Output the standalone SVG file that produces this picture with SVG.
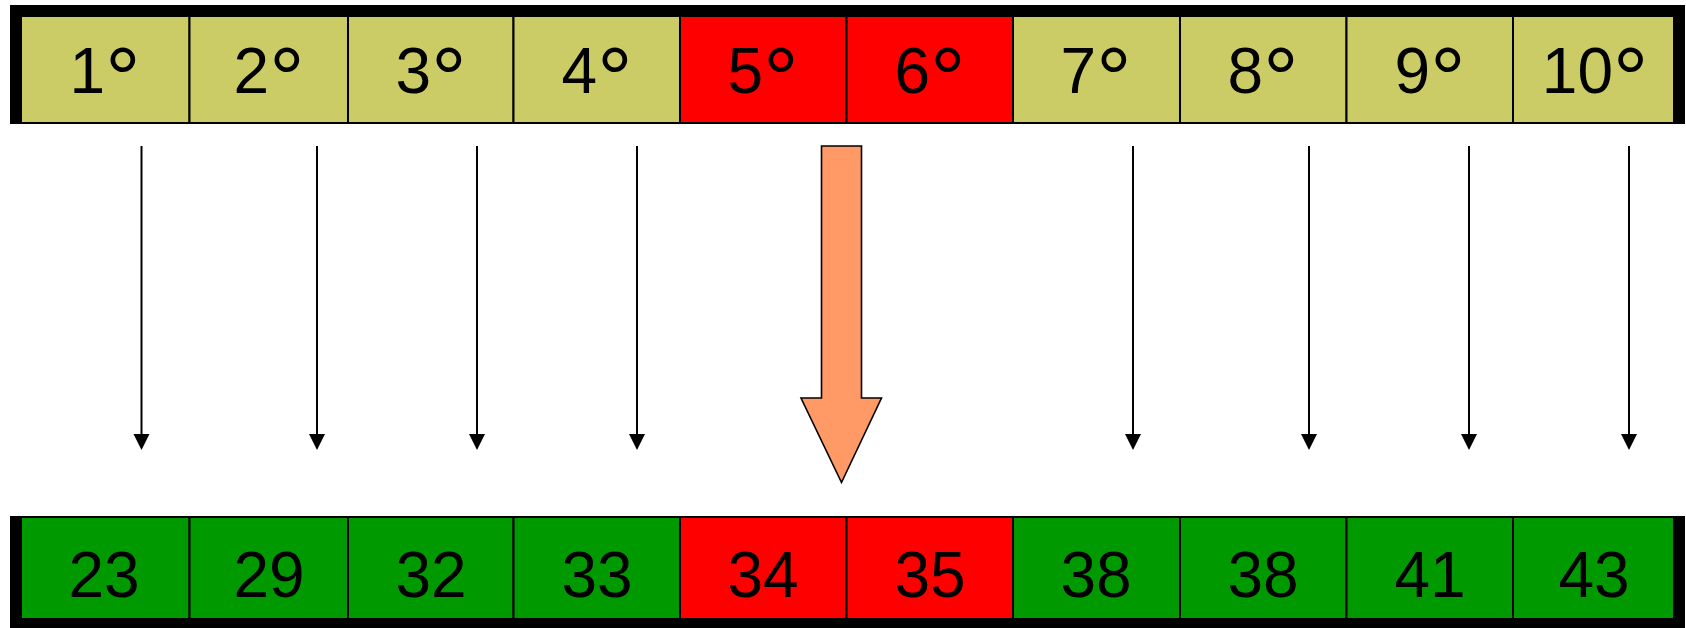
<svg xmlns="http://www.w3.org/2000/svg" width="1686" height="628" viewBox="0 0 1686 628">
<defs>
<style>
.y{fill:#CCCC66;stroke:#000;stroke-width:2}
.r{fill:#FF0000;stroke:#000;stroke-width:2}
.g{fill:#009900;stroke:#000;stroke-width:2}
.bar{fill:#000}
.t{font-family:"Liberation Sans",Arial,sans-serif;font-size:64px;fill:#000;text-anchor:middle}
.d{font-size:88px}
.ln{stroke:#000;stroke-width:2;fill:none}
.hd{fill:#000}
</style>
</defs>
<rect width="1686" height="628" fill="#fff"/>
<g id="top-row">
<rect class="bar" x="10" y="5" width="1675" height="12"/>
<rect class="bar" x="10" y="5" width="11" height="119"/>
<rect class="bar" x="1674" y="5" width="11" height="119"/>
<g id="t1"><rect class="y" x="21" y="16" width="168.5" height="107"/><text class="t" x="105" y="93">1<tspan class="d" dy="16">°</tspan></text></g>
<g id="t2"><rect class="y" x="189.5" y="16" width="158.5" height="107"/><text class="t" x="269" y="93">2<tspan class="d" dy="16">°</tspan></text></g>
<g id="t3"><rect class="y" x="348" y="16" width="165.5" height="107"/><text class="t" x="431" y="93">3<tspan class="d" dy="16">°</tspan></text></g>
<g id="t4"><rect class="y" x="513.5" y="16" width="166.5" height="107"/><text class="t" x="597" y="93">4<tspan class="d" dy="16">°</tspan></text></g>
<g id="t5"><rect class="r" x="680" y="16" width="166.5" height="107"/><text class="t" x="763" y="93">5<tspan class="d" dy="16">°</tspan></text></g>
<g id="t6"><rect class="r" x="846.5" y="16" width="166.5" height="107"/><text class="t" x="930" y="93">6<tspan class="d" dy="16">°</tspan></text></g>
<g id="t7"><rect class="y" x="1013" y="16" width="167" height="107"/><text class="t" x="1096" y="93">7<tspan class="d" dy="16">°</tspan></text></g>
<g id="t8"><rect class="y" x="1180" y="16" width="166.5" height="107"/><text class="t" x="1263" y="93">8<tspan class="d" dy="16">°</tspan></text></g>
<g id="t9"><rect class="y" x="1346.5" y="16" width="166.5" height="107"/><text class="t" x="1430" y="93">9<tspan class="d" dy="16">°</tspan></text></g>
<g id="t10"><rect class="y" x="1513" y="16" width="161" height="107"/><text class="t" x="1595" y="93">10<tspan class="d" dy="16">°</tspan></text></g>
</g>
<g id="bottom-row">
<rect class="bar" x="10" y="617" width="1675" height="11"/>
<rect class="bar" x="10" y="516" width="11" height="112"/>
<rect class="bar" x="1674" y="516" width="11" height="112"/>
<g id="b1"><rect class="g" x="21" y="517" width="168.5" height="102"/><text class="t" x="104" y="597">23</text></g>
<g id="b2"><rect class="g" x="189.5" y="517" width="158.5" height="102"/><text class="t" x="269" y="597">29</text></g>
<g id="b3"><rect class="g" x="348" y="517" width="165.5" height="102"/><text class="t" x="431" y="597">32</text></g>
<g id="b4"><rect class="g" x="513.5" y="517" width="166.5" height="102"/><text class="t" x="597" y="597">33</text></g>
<g id="b5"><rect class="r" x="680" y="517" width="166.5" height="102"/><text class="t" x="763" y="597">34</text></g>
<g id="b6"><rect class="r" x="846.5" y="517" width="166.5" height="102"/><text class="t" x="930" y="597">35</text></g>
<g id="b7"><rect class="g" x="1013" y="517" width="167" height="102"/><text class="t" x="1096" y="597">38</text></g>
<g id="b8"><rect class="g" x="1180" y="517" width="166.5" height="102"/><text class="t" x="1263" y="597">38</text></g>
<g id="b9"><rect class="g" x="1346.5" y="517" width="166.5" height="102"/><text class="t" x="1430" y="597">41</text></g>
<g id="b10"><rect class="g" x="1513" y="517" width="161" height="102"/><text class="t" x="1594" y="597">43</text></g>
</g>
<g id="connectors">
<path class="ln" d="M141.5 146V435M317 146V435M477 146V435M637 146V435M1133 146V435M1309 146V435M1469 146V435M1629 146V435"/>
<path class="hd" d="M133.5 434h16l-8 16zM309 434h16l-8 16zM469 434h16l-8 16zM629 434h16l-8 16zM1125 434h16l-8 16zM1301 434h16l-8 16zM1461 434h16l-8 16zM1621 434h16l-8 16z"/>
<path d="M821.5 146H861.5V398H881.5L841.5 482.5L801 398H821.5Z" fill="#FF9966" stroke="#000" stroke-width="1.6"/>
</g>
</svg>
